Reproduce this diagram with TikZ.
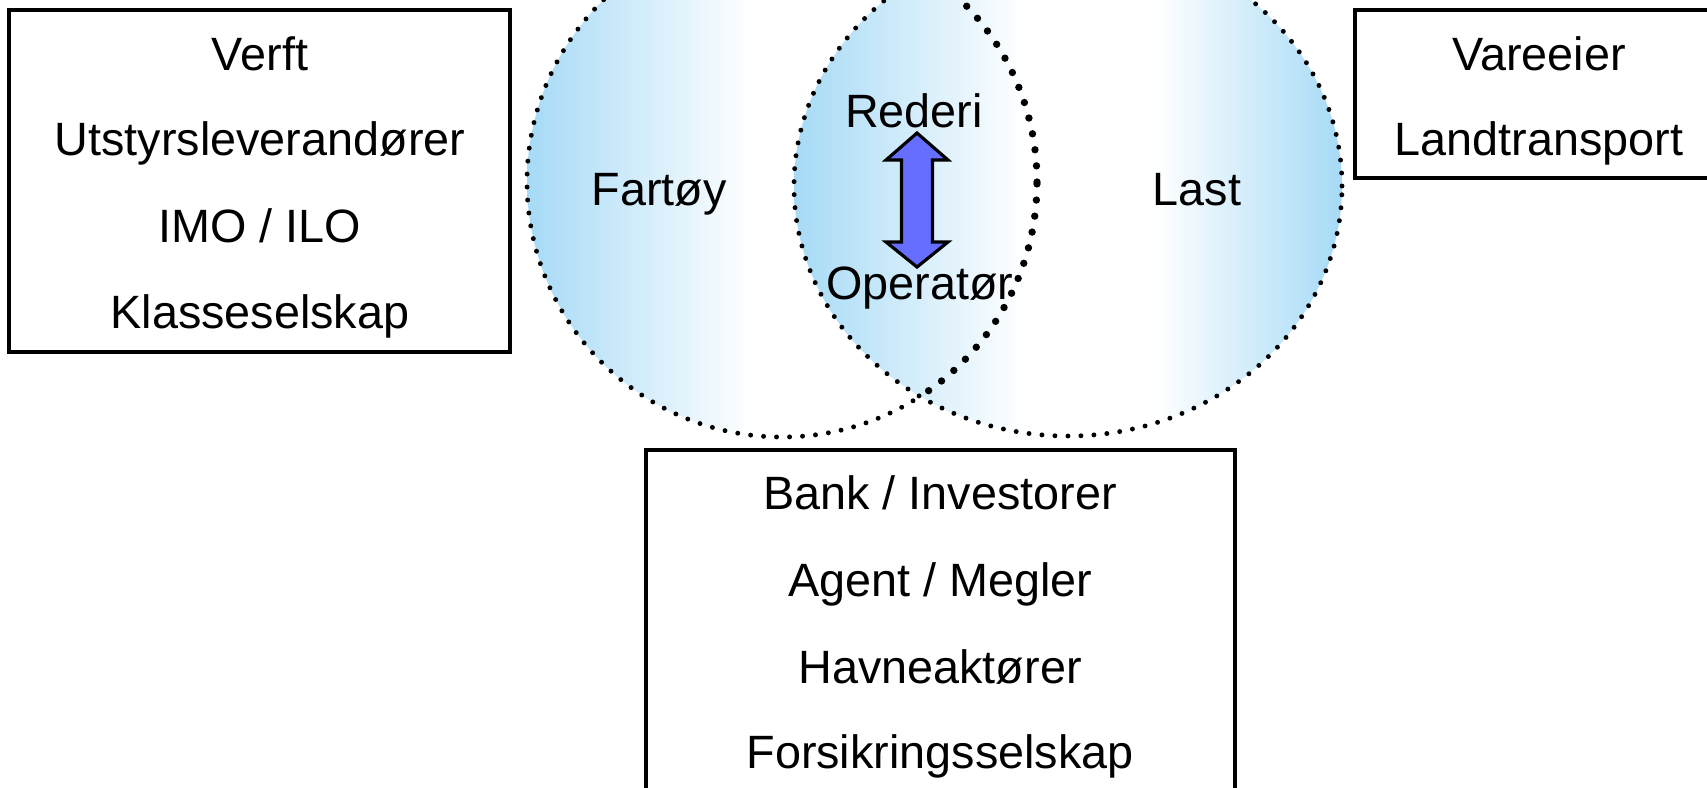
\documentclass[tikz,border=0pt]{standalone}
\usepackage{fontspec}
\setmainfont{Liberation Sans}

\definecolor{vennblue}{RGB}{166,218,246}
\definecolor{arrowblue}{RGB}{102,110,255}

% left disc: blue on the left, white towards the right
\pgfdeclarehorizontalshading{fartoyshade}{100bp}{color(0bp)=(vennblue); color(25bp)=(vennblue); color(47bp)=(white); color(100bp)=(white)}
% right disc: blue on both sides, white in the middle
\pgfdeclarehorizontalshading{lastshade}{100bp}{color(0bp)=(vennblue); color(25bp)=(vennblue); color(46bp)=(white); color(58bp)=(white); color(75bp)=(vennblue); color(100bp)=(vennblue)}

\tikzset{
    vennline/.style={line width=1.4pt, line cap=round, dash pattern=on 0pt off 3.7pt},
    vennbold/.style={line width=2.1pt, line cap=round, dash pattern=on 0pt off 4.6pt},
    infobox/.style={draw, line width=0.9pt},
    boxtext/.style={anchor=base, inner sep=0pt, font=\fontsize{13.3}{16}\selectfont},
}

\begin{document}
\begin{tikzpicture}
        \useasboundingbox (0,0) rectangle (17.07,-7.87);

        \coordinate (FC) at (7.82,-1.82);
        \coordinate (LC) at (10.68,-1.86);

        % the two discs
        \shade[shading=fartoyshade] (FC) circle (2.55);
        \draw[vennline] (FC) circle (2.55);
        \shade[shading=lastshade] (LC) ellipse (2.74 and 2.50);
        \draw[vennline] (LC) ellipse (2.74 and 2.50);
        \begin{scope}
            \clip (LC) ellipse (2.74 and 2.50);
            \draw[vennbold] (FC) circle (2.55);
        \end{scope}

        \node[boxtext] (fartoy) at (6.59,-2.05) {Fartøy};
        \node[boxtext] (last) at (11.97,-2.05) {Last};
        \node[boxtext] (rederi) at (9.14,-1.27) {Rederi};
        \node[boxtext] (operator) at (9.20,-2.99) {Operatør};

        % block arrow between Rederi and Operatør
        \coordinate (AT) at (9.17,-1.33);
        \coordinate (AB) at (9.17,-2.67);
        \draw[line width=0.9pt, line join=miter, fill=arrowblue] (AT) -- ++(0.31,-0.27) -- ++(-0.155,0) |- ++(0,-0.82) -- ++(0.155,0) -- (AB)
            -- ++(-0.31,0.25) -- ++(0.155,0) -- ++(0,0.82) -- ++(-0.155,0) -- cycle;

        % left box
        \draw[infobox] (0.09,-0.10) rectangle (5.10,-3.52);
        \node[boxtext] (verft) at (2.60,-0.70) {Verft};
        \node[boxtext] (utstyr) at (2.60,-1.555) {Utstyrsleverandører};
        \node[boxtext] (imo) at (2.60,-2.42) {IMO / ILO};
        \node[boxtext] (klasse) at (2.60,-3.28) {Klasseselskap};

        % right box
        \draw[infobox] (13.55,-0.10) rectangle (17.23,-1.78);
        \node[boxtext] (vareeier) at (15.39,-0.70) {Vareeier};
        \node[boxtext] (land) at (15.39,-1.55) {Landtransport};

        % bottom box
        \draw[infobox] (6.46,-8.20) |- (12.35,-4.50) -- (12.35,-8.20);
        \node[boxtext] (bank) at (9.40,-5.09) {Bank / Investorer};
        \node[boxtext] (agent) at (9.40,-5.96) {Agent / Megler};
        \node[boxtext] (havn) at (9.40,-6.83) {Havneaktører};
        \node[boxtext] (forsikring) at (9.40,-7.68) {Forsikringsselskap};
    \end{tikzpicture}
\end{document}
